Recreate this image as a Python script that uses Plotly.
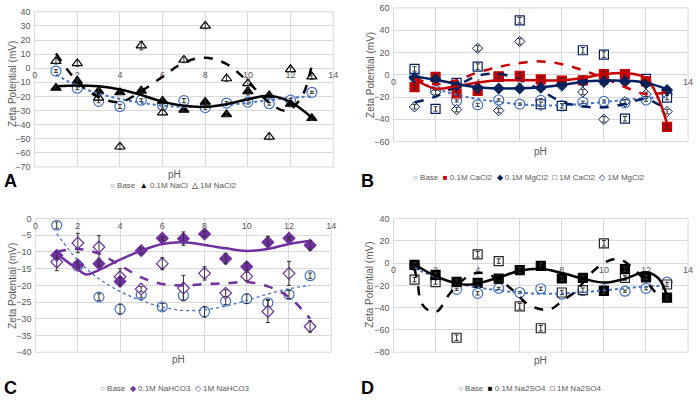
import plotly.graph_objects as go

# ---------------- data ----------------
pH = [1, 2, 3, 4, 5, 6, 7, 8, 9, 10, 11, 12, 13]

base = [-2.0, -14.2, -23.5, -27.1, -22.7, -26.4, -23.0, -27.9, -24.7, -24.0, -25.2, -22.7, -17.1]
base_err = [1.0, 1.0, 1.0, 1.5, 1.0, 1.0, 1.5, 1.6, 1.0, 1.4, 1.0, 1.2, 0.8]

# Panel A
nacl_01 = [-14.0, -9.0, -16.3, -17.2, -16.0, -23.2, -29.6, -23.9, -32.8, -16.5, -19.3, -25.3, -35.5]
nacl_1 = [5.0, 3.4, -21.0, -55.7, 16.0, -31.5, 5.9, 30.0, -7.3, -10.8, -48.7, -0.8, -5.9]
nacl_01_err = [1.5, 1.5, 2.0, 1.5, 2.5, 1.5, 1.5, 2.0, 1.5, 2.5, 1.5, 2.0, 1.5]
nacl_1_err = [2.0, 2.0, 1.5, 2.0, 3.0, 1.5, 2.0, 2.0, 2.0, 3.0, 2.0, 1.5, 2.0]

# Panel B
cacl_01 = [-11.1, -2.0, -16.7, -14.6, -1.5, -0.9, -4.2, -5.2, -5.0, 0.6, 0.6, -6.0, -46.8]
mgcl_01 = [-2.6, -4.4, -9.4, -11.7, -12.3, -12.3, -11.7, -8.8, -5.9, -6.4, -6.4, -7.9, -13.8]
cacl_1 = [5.2, -30.7, -7.3, 7.3, -2.0, 48.9, -26.5, -28.0, 22.0, 18.1, -39.5, -3.8, -20.5]
mgcl_1 = [-28.8, -16.0, -31.3, 23.7, -32.2, 29.9, -27.5, -10.2, -15.5, -40.1, -24.3, -17.6, -33.1]
b_err = [2.0, 2.0, 2.0, 2.5, 2.0, 2.5, 2.0, 2.0, 2.5, 2.5, 2.0, 2.0, 2.0]

# Panel C
nahco3_01 = [-11.0, -13.8, -13.5, -18.8, -9.6, -5.9, -6.0, -4.6, -12.0, -14.4, -7.1, -5.9, -8.0]
nahco3_1 = [-13.0, -7.3, -8.5, -17.4, -21.1, -13.5, -20.8, -16.4, -22.3, -17.3, -27.8, -16.4, -32.3]
nahco3_01_err = [1.0, 0.8, 0.8, 1.3, 0.8, 0.5, 2.0, 0.8, 1.5, 1.1, 1.8, 0.5, 1.4]
nahco3_1_err = [2.6, 2.9, 3.4, 2.4, 0.8, 1.8, 3.8, 2.0, 1.0, 1.2, 3.3, 3.6, 1.7]

# Panel D
na2so4_01 = [-1.5, -10.5, -16.8, -17.8, -14.0, -6.2, -2.4, -13.8, -13.3, -25.0, -5.3, -12.8, -31.0]
na2so4_1 = [-14.8, -17.0, -67.0, 7.9, 1.8, -38.8, -58.5, -26.4, -24.3, 17.8, -13.3, -12.0, -19.2]
d_err = [2.0, 2.0, 2.5, 2.5, 2.0, 2.5, 2.5, 2.0, 2.0, 2.5, 2.0, 2.0, 2.0]

# Trend curves
base_fit = [-4.5, -12.5, -18.0, -21.8, -24.5, -26.5, -27.5, -27.3, -26.2, -24.5, -22.6, -21.0, -20.0]

nacl_01_fit = [-12.8, -12.2, -12.8, -15.1, -19.0, -23.7, -26.7, -27.4, -25.5, -22.0, -19.6, -24.0, -35.0]
nacl_1_fit_x = [1, 2, 3, 4, 5, 6, 7, 8, 9, 10, 11, 11.8, 12.5, 13]
nacl_1_fit = [10.4, -9.3, -20.5, -24.0, -16.3, -6.0, 4.0, 7.5, 3.0, -9.5, -24.4, -30.2, -21.0, 2.2]

cacl_01_fit_x = [1, 2, 3, 4, 5, 6, 7, 8, 9, 10, 11, 12, 12.6, 13]
cacl_01_fit = [-3.8, -12.5, -10.2, -7.0, -5.0, -5.0, -5.0, -5.0, -2.9, 0.6, 1.5, -3.0, -21.9, -44.0]
mgcl_01_fit = [-1.5, -4.5, -8.3, -11.2, -12.2, -12.2, -11.2, -9.2, -6.3, -5.2, -5.3, -7.1, -13.0]
cacl_1_fit = [-3.0, -8.5, -5.0, 2.0, 7.0, 10.5, 12.0, 9.5, 4.0, -3.0, -11.0, -17.5, -15.5]
mgcl_1_fit = [-25.0, -19.6, -10.2, -0.9, 0.8, -4.4, -14.0, -24.3, -28.4, -29.3, -26.3, -21.9, -32.0]

nahco3_01_fit_x = [1, 2, 2.4, 3, 4, 5, 6, 7, 8, 9, 10, 11, 12, 13]
nahco3_01_fit = [-10.5, -15.2, -16.7, -15.4, -12.3, -9.6, -7.6, -7.1, -7.9, -8.9, -9.7, -9.1, -7.6, -6.6]
nahco3_1_fit = [-10.0, -9.1, -10.5, -14.0, -17.6, -19.6, -20.0, -19.6, -19.4, -19.0, -20.3, -23.5, -30.0]

na2so4_01_fit_x = [1, 2, 3, 3.5, 4, 5, 6, 7, 8, 9, 10, 11, 12, 12.6, 13]
na2so4_01_fit = [-1.0, -11.7, -18.2, -19.4, -18.2, -12.9, -6.8, -5.0, -8.8, -13.8, -17.5, -14.0, -8.2, -13.8, -29.3]
na2so4_1_fit_x = [1, 1.15, 1.33, 1.8, 2.1, 2.66, 3.2, 3.8, 4.3, 5.0, 5.7, 6.34, 7.0, 7.44, 8.06,
                  8.69, 9.32, 10.07, 10.7, 11.3, 12.05, 12.6, 13]
na2so4_1_fit = [-5.0, -18.0, -36.0, -43.7, -43.0, -27.7, -16.6, -9.5, -9.0, -14.6, -24.8, -36.4, -41.5,
                -41.6, -33.5, -24.8, -10.3, 0.8, 3.7, -3.0, -17.5, -28.0, -27.0]

x_ticks = [0, 2, 4, 6, 8, 10, 12, 14]

# ---------------- styling ----------------
W, H = 700, 405
BLUE = "#4472C4"
RED = "#C80000"
NAVY = "#002060"
PURPLE = "#7030A0"
BLACK = "#000000"
GRID = "#D9D9D9"
TXT = "#595959"
FONT = "Liberation Sans"
NARROW = "Liberation Sans Narrow, Liberation Sans"

fig = go.Figure()


def fx(p):
    return p / W


def fy(p):
    return 1 - p / H


panels = [
    dict(name="A", n=1, xpx=(32, 334), ypx=(7, 166), yr=(-70, 40), dt=10),
    dict(name="B", n=2, xpx=(395, 693), ypx=(3, 140), yr=(-60, 60), dt=20),
    dict(name="C", n=3, xpx=(33, 332), ypx=(219, 356), yr=(-40, 0), dt=5),
    dict(name="D", n=4, xpx=(395, 693), ypx=(219, 356), yr=(-80, 40), dt=20),
]

for p in panels:
    n = p["n"]
    sfx = "" if n == 1 else str(n)
    y0, y1 = fy(p["ypx"][1]), fy(p["ypx"][0])
    lo, hi = p["yr"]
    zero_frac = y0 + (0 - lo) / (hi - lo) * (y1 - y0)
    fig.layout["xaxis" + sfx] = dict(
        domain=[fx(p["xpx"][0]), fx(p["xpx"][1])], range=[0, 14],
        tickvals=x_ticks, ticktext=[str(v) for v in x_ticks],
        showgrid=True, gridcolor=GRID, gridwidth=1, zeroline=False,
        showline=False, anchor="free", position=zero_frac,
        ticks="", ticklen=0, ticklabelstandoff=0, layer="below traces",
        tickfont=dict(family=FONT, size=9, color=TXT),
    )
    fig.layout["yaxis" + sfx] = dict(
        domain=[y0, y1], range=[lo, hi], dtick=p["dt"], anchor="x" + sfx,
        showgrid=True, gridcolor=GRID, gridwidth=1, zeroline=False,
        showline=False, ticks="", ticklen=0, ticklabelstandoff=3,
        tickfont=dict(family=FONT, size=9, color=TXT),
    )
    fig.add_shape(type="rect", xref="x" + sfx + " domain", yref="y" + sfx + " domain",
                  x0=0, x1=1, y0=0, y1=1, line=dict(color=GRID, width=1), layer="below")


def add_points(n, y, err, symbol, color, fill, size=9, lw=1.2, name=""):
    sfx = "" if n == 1 else str(n)
    fig.add_trace(go.Scatter(
        x=pH, y=y, mode="markers", name=name, showlegend=False,
        xaxis="x" + sfx, yaxis="y" + sfx,
        marker=dict(symbol=symbol, size=size, color=fill, line=dict(color=color, width=lw)),
    ))
    fig.add_trace(go.Scatter(
        x=pH, y=y, mode="markers", showlegend=False, hoverinfo="skip",
        xaxis="x" + sfx, yaxis="y" + sfx, marker=dict(size=1, opacity=0),
        error_y=dict(type="data", array=err, color="#303030", thickness=1, width=2),
    ))


def add_fit(n, x, y, color, dash, width=2.5):
    sfx = "" if n == 1 else str(n)
    fig.add_trace(go.Scatter(
        x=x, y=y, mode="lines", showlegend=False, hoverinfo="skip",
        xaxis="x" + sfx, yaxis="y" + sfx,
        line=dict(color=color, dash=dash, width=width, shape="spline", smoothing=1.0),
    ))


# Panel A
add_points(1, base, base_err, "circle", BLUE, "white", size=10, name="Base")
add_points(1, nacl_01, nacl_01_err, "triangle-up", BLACK, BLACK, name="0.1M NaCl")
add_points(1, nacl_1, nacl_1_err, "triangle-up", BLACK, "white", name="1M NaCl2")
add_fit(1, pH, base_fit, BLUE, "dot", 2)
add_fit(1, pH, nacl_01_fit, BLACK, "solid")
add_fit(1, nacl_1_fit_x, nacl_1_fit, BLACK, "dash")

# Panel B
add_points(2, base, base_err, "circle", BLUE, "white", size=10, name="Base")
add_points(2, mgcl_1, b_err, "diamond", NAVY, "white", size=8, lw=1, name="1M MgCl2")
add_points(2, cacl_1, b_err, "square", NAVY, "white", name="1M CaCl2")
add_points(2, cacl_01, b_err, "square", RED, RED, name="0.1M CaCl2")
add_points(2, mgcl_01, b_err, "diamond", NAVY, NAVY, size=8, name="0.1M MgCl2")
add_fit(2, pH, base_fit, BLUE, "dot", 2)
add_fit(2, pH, cacl_1_fit, RED, "dash")
add_fit(2, pH, mgcl_1_fit, NAVY, "dash")
add_fit(2, cacl_01_fit_x, cacl_01_fit, RED, "solid")
add_fit(2, pH, mgcl_01_fit, NAVY, "solid")

# Panel C
add_points(3, base, base_err, "circle", BLUE, "white", size=10, name="Base")
add_points(3, nahco3_1, nahco3_1_err, "diamond", PURPLE, "white", name="1M NaHCO3")
add_points(3, nahco3_01, nahco3_01_err, "diamond", PURPLE, PURPLE, name="0.1M NaHCO3")
add_fit(3, pH, base_fit, BLUE, "dot", 1.3)
add_fit(3, nahco3_01_fit_x, nahco3_01_fit, PURPLE, "solid")
add_fit(3, pH, nahco3_1_fit, PURPLE, "dash")

# Panel D
add_points(4, base, base_err, "circle", BLUE, "white", size=10, name="Base")
add_points(4, na2so4_1, d_err, "square", "#262626", "white", name="1M Na2SO4")
add_points(4, na2so4_01, d_err, "square", BLACK, BLACK, name="0.1M Na2SO4")
add_fit(4, pH, base_fit, BLUE, "dot", 2)
add_fit(4, na2so4_01_fit_x, na2so4_01_fit, BLACK, "solid")
add_fit(4, na2so4_1_fit_x, na2so4_1_fit, BLACK, "dash")


# ---------------- text ----------------
def ann(x, y, text, size=10, color=TXT, family=FONT, angle=0, bold=False,
        xanchor="center", yanchor="middle"):
    if bold:
        text = "<b>" + text + "</b>"
    fig.add_annotation(x=fx(x), y=fy(y), xref="paper", yref="paper", text=text,
                       showarrow=False, textangle=angle, xanchor=xanchor, yanchor=yanchor,
                       borderpad=0, font=dict(size=size, color=color, family=family))


for (x, y) in [(10, 81), (371, 72), (10, 288), (371, 287)]:
    ann(x, y, "Zeta Potential (mV)", size=10, angle=-90)
for (x, y) in [(173, 174), (544, 150), (178, 363), (544, 364)]:
    ann(x, y, "pH", size=10)
for (x, y, t) in [(0, 180, "A"), (361, 180, "B"), (0, 393, "C"), (361, 393, "D")]:
    ann(x, y, t, size=18, color=BLACK, family=NARROW, bold=True, xanchor="left")

legend_A = [("○", BLUE, "Base"), ("▲", BLACK, "0.1M NaCl"), ("△", BLACK, "1M NaCl2")]
legend_B = [("○", BLUE, "Base"), ("■", RED, "0.1M CaCl2"), ("◆", NAVY, "0.1M MgCl2"),
            ("□", NAVY, "1M CaCl2"), ("◇", NAVY, "1M MgCl2")]
legend_C = [("○", BLUE, "Base"), ("◆", PURPLE, "0.1M NaHCO3"), ("◇", PURPLE, "1M NaHCO3")]
legend_D = [("○", BLUE, "Base"), ("■", BLACK, "0.1M Na2SO4"), ("□", BLACK, "1M Na2SO4")]


def legend_text(items):
    parts = []
    for sym, col, name in items:
        parts.append('<span style="color:%s">%s</span> %s' % (col, sym, name))
    return "&nbsp;&nbsp;".join(parts)


for (x, y, items) in [(172, 185, legend_A), (532, 177, legend_B),
                      (173, 393, legend_C), (533, 393, legend_D)]:
    ann(x, y, legend_text(items), size=8, family=NARROW)

fig.update_layout(
    width=W, height=H, margin=dict(l=0, r=0, t=0, b=0),
    paper_bgcolor="white", plot_bgcolor="white", showlegend=False,
)

fig.write_html("out.html", config={"displayModeBar": False},
               post_script="document.body.style.margin='0';")
